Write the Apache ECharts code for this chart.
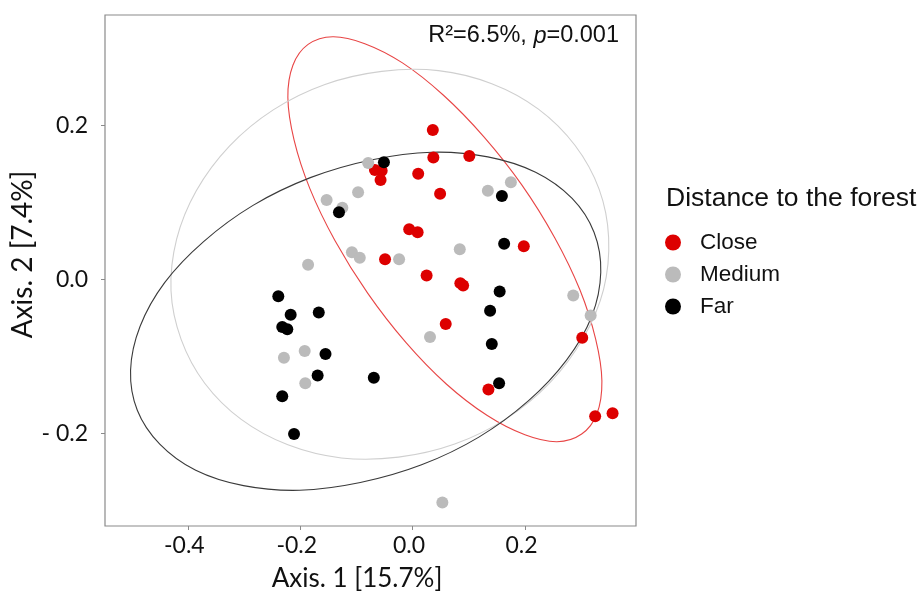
<!DOCTYPE html>
<html>
<head>
<meta charset="utf-8">
<script src="https://cdn.jsdelivr.net/npm/echarts@6/dist/echarts.min.js"></script>
<style>html,body{margin:0;padding:0;background:#fff}#c{width:920px;height:599px}</style>
</head>
<body>
<div id="c"></div>
<script>
// ---- data ----
const categories = ['Close', 'Medium', 'Far'];
const colors = ['#dd0000', '#bbbbbb', '#000000'];

const closePts = [
  [0.036, 0.194], [0.037, 0.158], [0.101, 0.160], [-0.067, 0.142], [-0.055, 0.141],
  [-0.057, 0.129], [0.010, 0.137], [0.049, 0.111], [-0.006, 0.065], [0.009, 0.061],
  [0.198, 0.043], [-0.049, 0.026], [0.025, 0.005], [0.085, -0.005], [0.090, -0.008],
  [0.059, -0.058], [0.302, -0.076], [0.135, -0.143], [0.325, -0.178], [0.356, -0.174]
];
const mediumPts = [
  [-0.079, 0.151], [-0.097, 0.113], [-0.153, 0.103], [-0.125, 0.093], [-0.108, 0.035],
  [-0.094, 0.028], [-0.186, 0.019], [0.134, 0.115], [0.175, 0.126], [0.084, 0.039],
  [-0.024, 0.026], [0.286, -0.021], [0.317, -0.047], [0.031, -0.075], [0.053, -0.290],
  [-0.229, -0.102], [-0.192, -0.093], [-0.191, -0.135]
];
const farPts = [
  [-0.051, 0.152], [-0.131, 0.087], [0.159, 0.108], [0.163, 0.046], [0.155, -0.016],
  [0.138, -0.041], [0.141, -0.084], [-0.069, -0.128], [0.154, -0.135], [-0.239, -0.022],
  [-0.217, -0.046], [-0.167, -0.043], [-0.232, -0.062], [-0.223, -0.065], [-0.155, -0.097],
  [-0.169, -0.125], [-0.232, -0.152], [-0.211, -0.201]
];

// ellipse outlines (data units), one closed ring each
const closeEllipse = [
  [0.301, -0.201], [0.257, -0.211], [0.200, -0.202], [0.133, -0.177], [0.060, -0.136],
  [-0.012, -0.082], [-0.080, -0.018], [-0.138, 0.050], [-0.183, 0.118], [-0.211, 0.181],
  [-0.222, 0.236], [-0.213, 0.278], [-0.186, 0.305], [-0.142, 0.315], [-0.085, 0.306],
  [-0.018, 0.281], [0.055, 0.239], [0.127, 0.185], [0.195, 0.122], [0.253, 0.054],
  [0.298, -0.014], [0.326, -0.078], [0.337, -0.132], [0.328, -0.175]
];
const mediumEllipse = [
  [0.332, 0.117], [0.349, 0.054], [0.340, -0.013], [0.304, -0.076], [0.245, -0.134],
  [0.167, -0.181], [0.075, -0.214], [-0.025, -0.231], [-0.127, -0.232], [-0.222, -0.215],
  [-0.305, -0.182], [-0.370, -0.135], [-0.412, -0.078], [-0.430, -0.015], [-0.420, 0.052],
  [-0.385, 0.115], [-0.326, 0.173], [-0.248, 0.220], [-0.156, 0.253], [-0.055, 0.270],
  [0.046, 0.271], [0.141, 0.254], [0.224, 0.221], [0.289, 0.174]
];
const farEllipse = [
  [0.323, 0.061], [0.335, 0.009], [0.319, -0.048], [0.274, -0.105], [0.206, -0.158],
  [0.118, -0.205], [0.016, -0.241], [-0.093, -0.264], [-0.201, -0.274], [-0.301, -0.268],
  [-0.386, -0.248], [-0.450, -0.214], [-0.490, -0.170], [-0.502, -0.118], [-0.485, -0.061],
  [-0.441, -0.004], [-0.372, 0.049], [-0.284, 0.096], [-0.182, 0.132], [-0.074, 0.155],
  [0.034, 0.165], [0.134, 0.159], [0.219, 0.139], [0.284, 0.105]
];

const xTicks = [-0.4, -0.2, 0.0, 0.2];
const xTickLabels = ['-0.4', '-0.2', '0.0', '0.2'];
const yTicks = [-0.2, 0.0, 0.2];
const yTickLabels = ['- 0.2', '0.0', '0.2'];

const xName = 'Axis. 1 [15.7%]';
const yName = 'Axis. 2 [7.4%]';
const legendTitle = 'Distance to the forest';

// ---- chart ----
function lab(ticks, labels) {
  return v => { const i = ticks.findIndex(t => Math.abs(t - v) < 1e-9); return i >= 0 ? labels[i] : ''; };
}
const pointSets = [closePts, mediumPts, farPts];
const ellipses = [closeEllipse, mediumEllipse, farEllipse];
const ellipseColors = ['#e84545', '#cfcfcf', '#3a3a3a'];

const series = [];
ellipses.forEach((e, i) => series.push({
  type: 'custom', name: categories[i] + ' ellipse', data: [e[0]], silent: true, z: 1,
  renderItem: (params, api) => ({
    type: 'polygon',
    shape: { points: e.map(p => api.coord(p)), smooth: 0.33 },
    style: { fill: 'none', stroke: ellipseColors[i], lineWidth: 1.1 }
  })
}));
pointSets.forEach((p, i) => series.push({
  type: 'scatter', name: categories[i], data: p, symbol: 'circle', symbolSize: 12,
  z: 3, itemStyle: { color: colors[i], opacity: 1 }
}));

const chart = echarts.init(document.getElementById('c'), null, { renderer: 'canvas' });
chart.setOption({
  animation: false,
  backgroundColor: '#fff',
  grid: { left: 105, right: 284, top: 15, bottom: 73, outerBoundsMode: 'none', containLabel: false,
    show: true, borderColor: '#8a8a8a', borderWidth: 1.2, backgroundColor: 'transparent' },
  title: {
    text: '{a|R²=6.5%, }{i|p}{a|=0.001}',
    right: 296, top: 19,
    textStyle: { rich: {
      a: { fontFamily: 'Liberation Sans', fontSize: 23.5, fontWeight: 'normal', color: '#111' },
      i: { fontFamily: 'Liberation Sans', fontSize: 23.5, fontWeight: 'normal', fontStyle: 'italic', color: '#111' }
    } }
  },
  graphic: [{
    type: 'text', left: 666, top: 185,
    style: { text: legendTitle, fontFamily: 'Liberation Sans', fontSize: 26.5, fill: '#111' }
  }],
  legend: {
    data: categories, orient: 'vertical', left: 665, top: 231, padding: 0,
    icon: 'circle', itemWidth: 16, itemHeight: 16, itemGap: 9,
    textStyle: { fontFamily: 'Liberation Sans', fontSize: 22.5, color: '#111', padding: [0, 0, 0, 14] }
  },
  xAxis: {
    type: 'value', min: -0.5475, max: 0.3977,
    name: xName, nameLocation: 'middle', nameGap: 40, nameMoveOverlap: false,
    nameTextStyle: { fontFamily: 'Lato', fontSize: 26, color: '#111', padding: [0, 27, 0, 0] },
    axisLine: { show: false, onZero: false },
    axisTick: { show: true, customValues: xTicks, length: 4, inside: false, lineStyle: { color: '#8a8a8a' } },
    axisLabel: { customValues: xTicks, formatter: lab(xTicks, xTickLabels), margin: 8, fontFamily: 'Lato', fontSize: 23, color: '#111', padding: [0, 7, 0, 0] },
    splitLine: { show: false }
  },
  yAxis: {
    type: 'value', min: -0.3204, max: 0.3432,
    name: yName, nameLocation: 'middle', nameGap: 68, nameRotate: 90, nameMoveOverlap: false,
    nameTextStyle: { fontFamily: 'Lato', fontSize: 28, color: '#111', padding: [0, 0, 0, 32] },
    axisLine: { show: false, onZero: false },
    axisTick: { show: true, customValues: yTicks, length: 4, inside: false, lineStyle: { color: '#8a8a8a' } },
    axisLabel: { customValues: yTicks, formatter: lab(yTicks, yTickLabels), margin: 17, fontFamily: 'Lato', fontSize: 23, color: '#111' },
    splitLine: { show: false }
  },
  series: series
});
</script>
</body>
</html>
